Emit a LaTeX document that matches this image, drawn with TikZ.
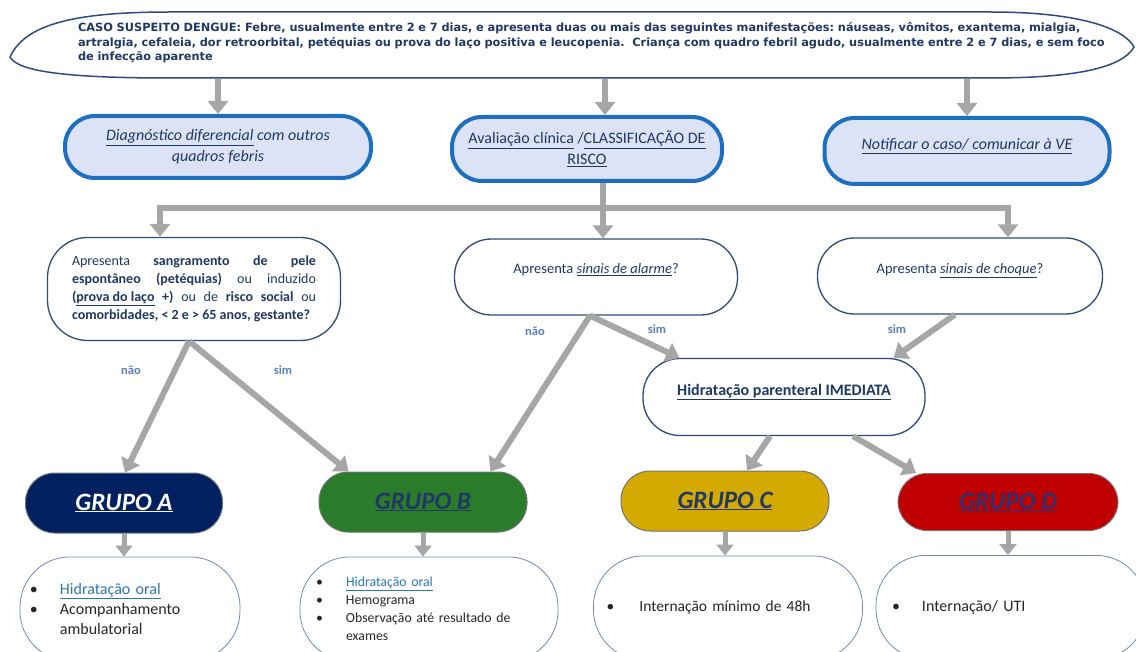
\documentclass[tikz,border=0pt]{standalone}
\usepackage{fontspec}
\setmainfont{Carlito}
\newfontfamily\verdanafont{DejaVu Sans}
\usetikzlibrary{arrows.meta, positioning}

\definecolor{cinza}{HTML}{A6A6A6}
\definecolor{marinho}{HTML}{1F3864}
\definecolor{azulborda}{HTML}{1E6FC0}
\definecolor{lavanda}{HTML}{DDE3F7}
\definecolor{contorno}{HTML}{2F4B7E}
\definecolor{azulrotulo}{HTML}{5A7EC2}
\definecolor{caixaborda}{HTML}{7088BA}
\definecolor{linkazul}{HTML}{2E75B6}
\definecolor{roxo}{HTML}{2E3070}
\definecolor{grupoA}{HTML}{002060}
\definecolor{grupoB}{HTML}{2A7B2A}
\definecolor{grupoC}{HTML}{D4A900}
\definecolor{grupoD}{HTML}{C00000}

\newcommand{\marca}{\makebox[30pt][l]{\textbullet}}
\frenchspacing

\begin{document}
\begin{tikzpicture}[x=1pt, y=-1pt,
    seta/.style={draw=cinza, line width=6pt, -{Triangle[width=20pt,length=13pt]}},
    setapeq/.style={draw=cinza, line width=5pt, -{Triangle[width=17pt,length=11pt]}},
    linha/.style={draw=cinza, line width=6pt},
    azul/.style={draw=azulborda, line width=4pt, fill=lavanda, rounded corners=30pt, align=center, text=marinho, font=\fontsize{16}{21}\selectfont},
    pergunta/.style={draw=contorno, line width=1.3pt, fill=white, rounded corners=37pt, text=marinho, font=\fontsize{14.5}{18}\selectfont},
    grupo/.style={draw=black!55, line width=1pt, rounded corners=29pt, minimum height=60pt, text=marinho, font=\fontsize{25}{30}\selectfont\bfseries\itshape},
    caixa/.style={draw=caixaborda, line width=.8pt, fill=white, rounded corners=50pt, minimum height=104pt, align=left, text=black!85},
    rotulo/.style={text=azulrotulo, font=\fontsize{12.5}{14}\selectfont\bfseries},
  ]
  \useasboundingbox (0,0) rectangle (1136,652);
  \clip (0,0) rectangle (1136,652);

  % caso suspeito
  \node (caso) at (598,43) [minimum width=1124pt, minimum height=72pt, inner sep=0pt, text width=1040pt, align=left, text=marinho, font=\verdanafont\bfseries\fontsize{11.35}{14.5}\selectfont] {CASO SUSPEITO DENGUE: Febre, usualmente entre 2 e 7 dias, e apresenta duas ou mais das seguintes manifestações: náuseas, vômitos, exantema, mialgia,\\ artralgia, cefaleia, dor retroorbital, petéquias ou prova do laço positiva e leucopenia.\ \ Criança com quadro febril agudo, usualmente entre 2 e 7 dias, e sem foco\\ de infecção aparente};
  \draw [line width=1.5pt, draw=contorno] (10,57) .. controls (25,24) and (75,12) .. (170,12) -- (990,12) .. controls (1085,12) and (1125,30) .. (1134,47) .. controls (1122,68) and (1075,78) .. (990,78) -- (170,78) .. controls (70,78) and (18,72) .. (10,57) -- cycle;

  % primeira linha
  \node (diag) at (218,147) [azul, minimum width=306pt, minimum height=62pt] {\textit{\underline{Diagnóstico diferencial} com outros}\\ \textit{quadros febris}};
  \node (aval) at (587,149) [azul, minimum width=270pt, minimum height=64pt] {\underline{Avaliação clínica} /\underline{CLASSIFICAÇÃO DE}\\ \underline{RISCO}};
  \node (notif) at (967,151) [azul, minimum width=285pt, minimum height=66pt] {\raisebox{1pt}[0pt][0pt]{\textit{\underline{Notificar o caso/ comunicar à VE}}}};
  \draw [seta] (caso.south -| diag.north) -- (diag.north);
  \draw [seta] ([xshift=18pt]aval.north |- caso.south) -- ([xshift=18pt]aval.north);
  \draw [seta] (caso.south -| notif.north) -- (notif.north);

  % perguntas
  \node (sangra) at (194,289) [pergunta, minimum width=293pt, minimum height=103pt, text width=244pt, align=justify, rounded corners=40pt, font=\fontsize{14}{18}\selectfont] {Apresenta \textbf{sangramento de pele}\linebreak \textbf{espontâneo (petéquias)} ou induzido\linebreak \textbf{(\underline{prova do laço} +)} ou de \textbf{risco social} ou\linebreak \textbf{comorbidades, < 2 e > 65 anos, gestante?}};
  \node (alarme) at (596,277) [pergunta, minimum width=283pt, minimum height=76pt] {\raisebox{3.5pt}[0pt][0pt]{Apresenta \textit{\underline{sinais de alarme}}?}};
  \node (choque) at (960,276) [pergunta, minimum width=285pt, minimum height=76pt] {\raisebox{2.5pt}[0pt][0pt]{Apresenta \textit{\underline{sinais de choque}}?}};
  \coordinate (ramo) at (603,208);
  \draw [linha] ([xshift=16pt]aval.south) -- (ramo);
  \draw [seta] (ramo) -- (ramo |- alarme.north);
  \draw [seta] (ramo) -| ([xshift=-34pt]sangra.north);
  \draw [seta] (ramo) -| ([xshift=48pt]choque.north);

  \node (hidrat) at (784,397) [pergunta, minimum width=282pt, minimum height=77pt, font=\fontsize{16}{18}\selectfont\bfseries] {\raisebox{1.5pt}[0pt][0pt]{\underline{Hidratação parenteral IMEDIATA}}};

  % grupos
  \node (grpA) at (124,503) [grupo, fill=grupoA, minimum width=197pt, text=white] {\underline{GRUPO A}};
  \node (grpB) at (423,502) [grupo, fill=grupoB, minimum width=208pt] {\underline{GRUPO B}};
  \node (grpC) at (725,501) [grupo, fill=grupoC, minimum width=208pt] {\underline{GRUPO C}};
  \node (grpD) at (1008,502) [grupo, fill=grupoD, minimum width=220pt, minimum height=57pt, text=roxo] {\underline{GRUPO D}};

  \draw [seta] ([xshift=-5pt]sangra.south) -- ([xshift=1pt]grpA.north);
  \draw [seta] ([xshift=-5pt]sangra.south) -- ([xshift=30pt]grpB.north west);
  \draw [seta] ([xshift=-6pt]alarme.south) -- ([xshift=-37pt]grpB.north east);
  \draw [seta] ([xshift=-6pt]alarme.south) -- ([xshift=37pt]hidrat.north west);
  \draw [seta] ([xshift=-5pt]choque.south) -- ([xshift=-32pt]hidrat.north east);
  \draw [seta] ([xshift=-14pt]hidrat.south) -- ([xshift=22pt]grpC.north);
  \draw [seta] ([xshift=69pt]hidrat.south) -- ([xshift=-92pt]grpD.north);

  \node [rotulo] (nao1) at (131,370) {não};
  \node [rotulo] (sim1) at (283,370) {sim};
  \node [rotulo] (nao2) at (535,331) {não};
  \node [rotulo] (sim2) at (657,329) {sim};
  \node [rotulo] (sim3) at (897,329) {sim};

  % condutas
  \node (caixaA) [caixa, below=23pt of grpA, xshift=6pt, minimum width=220pt, text width=200pt, font=\fontsize{16}{20}\selectfont] {\marca\textcolor{linkazul}{\underline{Hidratação oral}}\\ \marca Acompanhamento\\ \hspace*{30pt}ambulatorial};
  \node (caixaB) [caixa, below=24pt of grpB, xshift=6pt, minimum width=258pt, text width=226pt, font=\fontsize{13.8}{18}\selectfont] {\marca\textcolor{linkazul}{\underline{Hidratação oral}}\\ \marca Hemograma\\ \marca Observação até resultado de\\ \hspace*{30pt}exames};
  \node (caixaC) [caixa, below=24pt of grpC, xshift=3pt, minimum width=269pt, text width=243pt, font=\fontsize{15.5}{20}\selectfont] {\makebox[33pt][l]{\textbullet}Internação mínimo de 48h};
  \node (caixaD) [caixa, below=24pt of grpD, xshift=3pt, minimum width=270pt, text width=238pt, font=\fontsize{16}{20}\selectfont] {\marca Internação/ UTI};

  \draw [setapeq] (grpA.south) -- (grpA.south |- caixaA.north);
  \draw [setapeq] (grpB.south) -- (grpB.south |- caixaB.north);
  \draw [setapeq] (grpC.south) -- (grpC.south |- caixaC.north);
  \draw [setapeq] (grpD.south) -- (grpD.south |- caixaD.north);
\end{tikzpicture}
\end{document}
